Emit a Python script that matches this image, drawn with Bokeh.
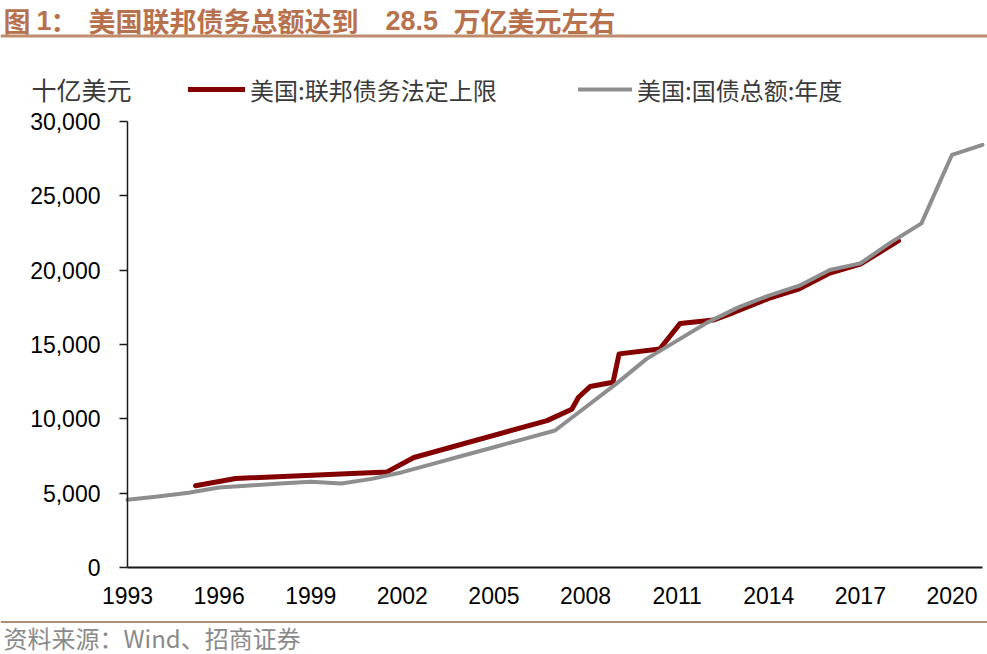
from bokeh.plotting import figure
from bokeh.models import (Range1d, FixedTicker, NumeralTickFormatter, Label,
                          BoxAnnotation, Legend, LegendItem)
from bokeh.embed import file_html
from bokeh.resources import INLINE

# ---------------- data ----------------
total_years = [1993, 1994, 1995, 1996, 1997, 1998, 1999, 2000, 2001, 2002,
               2003, 2004, 2005, 2006, 2007, 2008, 2009, 2010, 2011, 2012,
               2013, 2014, 2015, 2016, 2017, 2018, 2019, 2020, 2021]
total_debt = [4556, 4778, 5025, 5380, 5520, 5650, 5770, 5650, 5960, 6411,
              6975, 7533, 8091, 8655, 9213, 10779, 12351, 14031, 15261, 16491,
              17499, 18285, 18957, 20012, 20456, 21867, 23144, 27760, 28432]

limit_years = [1995.23, 1996.54, 2001.50, 2002.38, 2006.74, 2007.55, 2007.77,
               2008.15, 2008.90, 2009.10, 2010.43, 2011.10, 2012.20, 2012.85,
               2014.0, 2015.0, 2016.0, 2017.0, 2018.25]
debt_limit = [5500, 5990, 6430, 7400, 9880, 10650, 11450, 12170, 12460, 14370,
              14700, 16420, 16650, 17150, 18100, 18750, 19800, 20400, 21980]

x_ticks = [1993, 1996, 1999, 2002, 2005, 2008, 2011, 2014, 2017, 2020]
y_ticks = [0, 5000, 10000, 15000, 20000, 25000, 30000]

title_parts = ["图", "1", "：", "美国联邦债务总额达到", "28.5", "万亿美元左右"]
unit_label = "十亿美元"
series_names = ["美国:联邦债务法定上限", "美国:国债总额:年度"]
source_text = "资料来源：Wind、招商证券"

# ---------------- geometry (canvas pixels) ----------------
W, H = 987, 654
A_L, A_R, A_T, A_B = 127, 982, 121, 567   # plot area of the chart
X0, X1, Y0, Y1 = 1993, 2021, 0, 30000


def xd(px):
    return X0 + (px - A_L) * (X1 - X0) / (A_R - A_L)


def yd(py):
    return Y0 + (A_B - py) * (Y1 - Y0) / (A_B - A_T)


# the frame covers the whole canvas; axes are pinned inside it
p = figure(width=W, height=H, output_backend="svg", toolbar_location=None,
           tools="", x_range=Range1d(xd(0), xd(W)),
           y_range=Range1d(yd(H), yd(0)),
           min_border=0, min_border_left=0, min_border_right=0,
           min_border_top=0, min_border_bottom=0)
p.title = None
p.outline_line_color = None
p.xgrid.visible = False
p.ygrid.visible = False
p.background_fill_color = "white"
p.border_fill_color = "white"

RED = "#840000"
GRAY = "#8e8e8e"
r_red = p.line(limit_years, debt_limit, line_color=RED, line_width=5,
               line_join="round", line_cap="round")
r_gray = p.line(total_years, total_debt, line_color=GRAY, line_width=4,
                line_join="round", line_cap="round")

# axes
xa = p.xaxis[0]
xa.fixed_location = Y0
xa.bounds = (X0, X1)
xa.ticker = FixedTicker(ticks=x_ticks)
xa.major_tick_out = 0
xa.major_tick_in = 0
xa.minor_tick_out = 0
xa.minor_tick_in = 0
xa.axis_line_color = "#1a1a1a"
xa.axis_line_width = 2
xa.major_label_text_font = "Liberation Sans"
xa.major_label_text_font_size = "23px"
xa.major_label_text_color = "#000000"
xa.major_label_standoff = 19

ya = p.yaxis[0]
ya.fixed_location = X0
ya.bounds = (Y0, Y1)
ya.ticker = FixedTicker(ticks=y_ticks)
ya.formatter = NumeralTickFormatter(format="0,0")
ya.major_tick_out = 8
ya.major_tick_in = 0
ya.minor_tick_out = 0
ya.minor_tick_in = 0
ya.major_tick_line_color = "#1a1a1a"
ya.major_tick_line_width = 1.5
ya.axis_line_color = "#1a1a1a"
ya.axis_line_width = 1.5
ya.major_label_text_font = "Liberation Sans"
ya.major_label_text_font_size = "23px"
ya.major_label_text_color = "#000000"
ya.major_label_standoff = 19

# title
TC = "#b7714c"
CJK = "Noto Sans CJK SC"
title_x = [3, 36, 50, 88, 385, 453]
title_fonts = [CJK, "Liberation Sans", CJK, CJK, "Liberation Sans", CJK]
title_sizes = ["27px", "27px", "27px", "27px", "27px", "27px"]
for txt, px, fnt, sz in zip(title_parts, title_x, title_fonts, title_sizes):
    p.add_layout(Label(x=xd(px), y=yd(20), text=txt, text_font=fnt,
                       text_font_size=sz, text_font_style="bold",
                       text_color=TC, text_align="left",
                       text_baseline="middle"))

# title rule and source rule
p.add_layout(BoxAnnotation(left=xd(0), right=xd(W), top=yd(34),
                           bottom=yd(37), fill_color="#bf8c6c",
                           fill_alpha=1, line_alpha=0))
p.add_layout(BoxAnnotation(left=xd(0), right=xd(W), top=yd(620.5),
                           bottom=yd(622.5), fill_color="#a88f72",
                           fill_alpha=1, line_alpha=0))

# unit label
p.add_layout(Label(x=xd(31), y=yd(88), text=unit_label, text_font=CJK,
                   text_font_size="25px", text_color="#3a3a3a",
                   text_align="left", text_baseline="middle"))

# source
p.add_layout(Label(x=xd(3), y=yd(636.5), text=source_text, text_font=CJK,
                   text_font_size="24px", text_color="#8a8a8a",
                   text_align="left", text_baseline="middle"))

# legends (location is measured from the frame's bottom-left corner)
LEG_H = 36
LEG_CY = 89
for rend, name, gx, gw in [(r_red, series_names[0], 188, 57),
                            (r_gray, series_names[1], 578, 54)]:
    leg = Legend(items=[LegendItem(label=name, renderers=[rend])],
                 location=(gx, H - (LEG_CY + LEG_H / 2)),
                 orientation="horizontal", padding=0, margin=0, spacing=0,
                 glyph_width=gw, glyph_height=LEG_H, label_height=LEG_H,
                 label_standoff=5,
                 label_text_font=CJK, label_text_font_size="24px",
                 label_text_color="#3a3a3a", border_line_color=None,
                 background_fill_alpha=0)
    p.add_layout(leg)

open("out.html", "w").write(file_html(p, INLINE))
